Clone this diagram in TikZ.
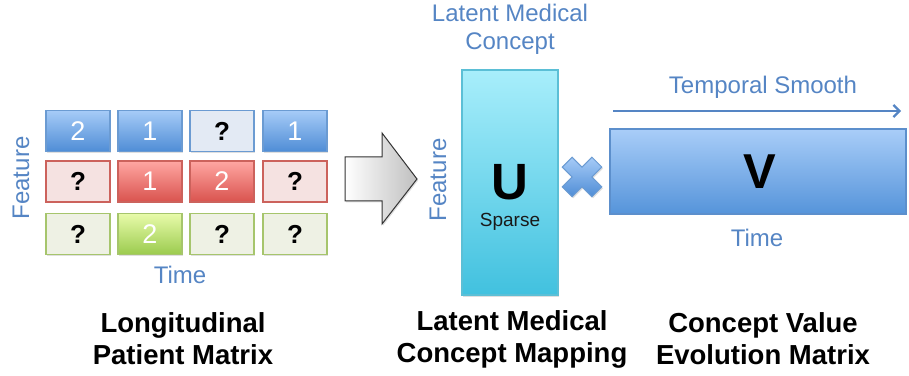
\documentclass[tikz,border=0pt]{standalone}
\usepackage{fontspec}
\setmainfont{Liberation Sans}
\usetikzlibrary{shadows,arrows.meta}
\definecolor{txtblue}{HTML}{5585C4}
\definecolor{bluetop}{HTML}{A6CBF7}
\definecolor{bluebot}{HTML}{4F8DD6}
\definecolor{blueline}{HTML}{6B9BD2}
\definecolor{bluelight}{HTML}{E3EAF4}
\definecolor{redtop}{HTML}{FFA6A2}
\definecolor{redbot}{HTML}{D9534E}
\definecolor{redline}{HTML}{CC625C}
\definecolor{redlight}{HTML}{F5E2E1}
\definecolor{greentop}{HTML}{E8FBAA}
\definecolor{greenbot}{HTML}{9BCB4E}
\definecolor{greenline}{HTML}{A6C56C}
\definecolor{greenlight}{HTML}{EEF1E4}
\definecolor{cyantop}{HTML}{A8EEFB}
\definecolor{cyanbot}{HTML}{41C1DF}
\definecolor{cyanline}{HTML}{5BBFD6}
\definecolor{vtop}{HTML}{A9CDF8}
\definecolor{vbot}{HTML}{5594DA}
\definecolor{vline}{HTML}{5C8FCC}
\tikzset{
  x=1pt,y=1pt,
  shad/.style={drop shadow={opacity=0.25,shadow xshift=1.2pt,shadow yshift=-1.5pt}},
  cell/.style={shad,minimum width=64pt,minimum height=41pt,line width=1.5pt,inner sep=0pt,
    font=\fontsize{27}{27}\selectfont},
  qcell/.style={cell,font=\fontsize{26}{26}\selectfont\bfseries},
  bfull/.style={cell,draw=blueline,top color=bluetop,bottom color=bluebot,text=white},
  bq/.style={qcell,draw=blueline,fill=bluelight},
  rfull/.style={cell,draw=redline,top color=redtop,bottom color=redbot,text=white},
  rq/.style={qcell,draw=redline,fill=redlight},
  gfull/.style={cell,draw=greenline,top color=greentop,bottom color=greenbot,text=white},
  gq/.style={qcell,draw=greenline,fill=greenlight},
  bluetxt/.style={text=txtblue,font=\fontsize{24}{28}\selectfont,inner sep=0pt},
  title/.style={align=center,font=\fontsize{27.5}{32}\selectfont\bfseries,inner sep=0pt},
}
\begin{document}
\begin{tikzpicture}
\useasboundingbox (0,0) rectangle (909,375);
% matrix cells
\node[bfull] (c11) at (78,244) {2};
\node[bfull] (c12) at (150,244) {1};
\node[bq]    (c13) at (222,244) {?};
\node[bfull] (c14) at (295,244) {1};
\node[rq]    (c21) at (78,193.5) {?};
\node[rfull] (c22) at (150,193.5) {1};
\node[rfull] (c23) at (222,193.5) {2};
\node[rq]    (c24) at (295,193.5) {?};
\node[gq]    (c31) at (78,141) {?};
\node[gfull] (c32) at (150,141) {2};
\node[gq]    (c33) at (222,141) {?};
\node[gq]    (c34) at (295,141) {?};
\node[bluetxt,rotate=90] (featL) at (21,197) {Feature};
\node[bluetxt] (timeL) at (180,100) {Time};
% big arrow
\draw[line width=1pt,draw=black!80,left color=white,right color=black!25,shad]
  (345,218) -- (382,218) -- (382,242) -- (417,196) -- (382,151) -- (382,174) -- (345,174) -- cycle;
% U matrix
\node[shad,draw=cyanline,line width=1.5pt,top color=cyantop,bottom color=cyanbot,
  minimum width=96pt,minimum height=225pt,inner sep=0pt] (U) at (510,192.5) {};
\node[font=\fontsize{51}{51}\selectfont\bfseries,inner sep=0pt] (Ul) at (510,193) {U};
\node[font=\fontsize{19}{20}\selectfont,text=black!90,inner sep=0pt] (Us) at (510,153) {Sparse};
\node[bluetxt,align=center] (lmc) at (510,346) {Latent Medical\\Concept};
\node[bluetxt,rotate=90] (featU) at (438,195) {Feature};
% cross
\begin{scope}[shift={(582,198)},rotate=45]
\draw[line width=1pt,draw=blueline,top color=bluetop,bottom color=bluebot,shad]
  (-7,-21) -- (7,-21) -- (7,-7) -- (21,-7) -- (21,7) -- (7,7) -- (7,21) -- (-7,21)
  -- (-7,7) -- (-21,7) -- (-21,-7) -- (-7,-7) -- cycle;
\end{scope}
% V matrix
\node[shad,draw=vline,line width=1.5pt,top color=vtop,bottom color=vbot,
  minimum width=296pt,minimum height=85pt,inner sep=0pt] (V) at (758,203.5) {};
\node[font=\fontsize{49}{49}\selectfont\bfseries,inner sep=0pt] (Vl) at (760,203) {V};
\coordinate (ts1) at (613,264);
\coordinate (ts2) at (901,264);
\draw[txtblue,line width=2.2pt,-{Straight Barb[length=6pt,width=12pt]}] (ts1) -- (ts2);
\node[bluetxt] (tsm) at (763,288) {Temporal Smooth};
\node[bluetxt] (timeV) at (757,137) {Time};
% titles
\node[title] (t1) at (183,36) {Longitudinal\\Patient Matrix};
\node[title] (t2) at (512,36) {Latent Medical\\Concept Mapping};
\node[title] (t3) at (763,36) {Concept Value\\Evolution Matrix};
\end{tikzpicture}
\end{document}
